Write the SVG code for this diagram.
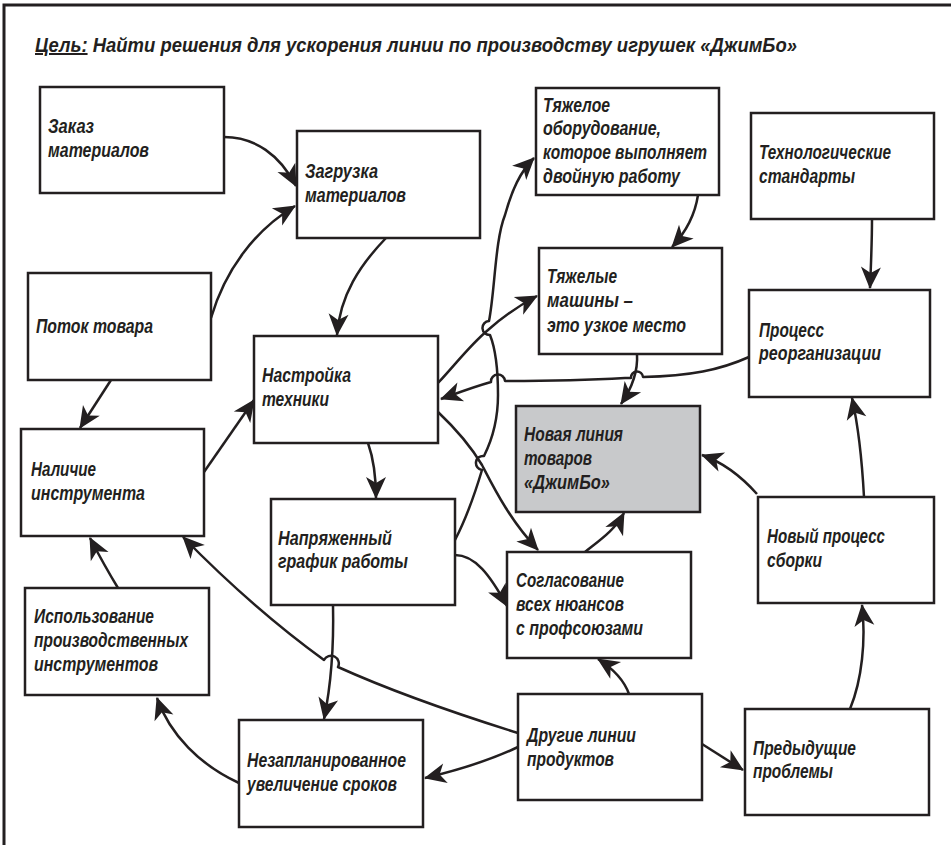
<svg xmlns="http://www.w3.org/2000/svg" width="951" height="845" viewBox="0 0 951 845">
<style>
  .box{fill:#fff;stroke:#231f20;stroke-width:2.5}
  .hl{fill:#c8c9cb}
  .t{font-family:"Liberation Sans","Arial",sans-serif;font-weight:700;font-style:italic;font-size:20px;fill:#231f20}
  .c{fill:none;stroke:#231f20;stroke-width:2.5;stroke-linejoin:round}
  .a{marker-end:url(#ah)}
  .frame{fill:none;stroke:#231f20;stroke-width:3}
</style>
<defs>
  <marker id="ah" markerUnits="userSpaceOnUse" markerWidth="26" markerHeight="22" refX="21" refY="10" orient="auto" overflow="visible">
    <path d="M0,0 L22,10 L0,20 L6,10 z" fill="#231f20"/>
  </marker>
</defs>

<!-- page frame -->
<path class="frame" d="M4,845 V5 H951"/>

<!-- heading -->
<text class="t" x="35" y="52" textLength="762" lengthAdjust="spacingAndGlyphs"><tspan text-decoration="underline">Цель:</tspan> Найти решения для ускорения линии по производству игрушек «ДжимБо»</text>

<!-- connectors -->
<g id="connectors">
  <path class="c a" d="M224,137 C255,137 280,155 296,186"/>
  <path class="c a" d="M211,318 C225,270 255,230 295,206"/>
  <path class="c a" d="M386,238 C360,265 340,295 337,335"/>
  <path class="c a" d="M111,380 L80,428"/>
  <path class="c a" d="M204,472 L254,400"/>
  <path class="c a" d="M368,443 C374,460 376,480 376,498"/>
  <path class="c a" d="M118,588 Q104,565 90,538"/>
  <path class="c a" d="M518,733 C470,718 400,695 338,667 A7,7 0 0 0 324,660 C280,628 230,585 183,537"/>
  <path class="c a" d="M333,605 C334,650 330,690 324,719"/>
  <path class="c a" d="M239,783 C200,765 170,735 157,698"/>
  <path class="c a" d="M518,747 Q480,765 425,778"/>
  <path class="c a" d="M629,694 C624,680 612,668 598,659"/>
  <path class="c a" d="M702,744 L743,770"/>
  <path class="c a" d="M850,709 C862,680 866,640 862,605"/>
  <path class="c a" d="M864,497 C862,460 858,425 852,398"/>
  <path class="c a" d="M757,494 C740,475 722,462 702,455"/>
  <path class="c a" d="M872,219 C872,240 871,265 870,288"/>
  <path class="c a" d="M698,195 C695,215 686,232 672,247"/>
  <path class="c a" d="M637,354 C638,370 632,388 621,404"/>
  <path class="c a" d="M749,357 C720,370 690,376 643,377 A6,6 0 0 0 631,378 L625,378 C590,380 540,381 505,381 A7,7 0 0 0 491,382 C470,388 455,394 441,399"/>
  <path class="c a" d="M438,383 C455,365 470,345 488,330 C505,315 520,305 537,296"/>
  <path class="c a" d="M455,540 C468,515 476,490 482,470 A7,7 0 0 1 484,456 C492,440 498,420 498,395 C498,370 496,350 490,335 A7,7 0 0 1 489,321 C495,290 495,240 505,215 C512,190 520,172 534,158"/>
  <path class="c a" d="M438,412 C455,428 470,445 482,465 C495,490 510,520 538,550"/>
  <path class="c a" d="M455,555 C475,555 490,575 507,606"/>
  <path class="c a" d="M585,552 C600,540 615,530 624,513"/>
</g>

<!-- nodes -->
<g id="order-materials">
  <rect class="box" x="40" y="87" width="184" height="106"/>
  <text class="t" x="48" y="133" textLength="46" lengthAdjust="spacingAndGlyphs">Заказ</text>
  <text class="t" x="48" y="157" textLength="101" lengthAdjust="spacingAndGlyphs">материалов</text>
</g>
<g id="load-materials">
  <rect class="box" x="297" y="131" width="183" height="107"/>
  <text class="t" x="305" y="178" textLength="73" lengthAdjust="spacingAndGlyphs">Загрузка</text>
  <text class="t" x="305" y="202" textLength="101" lengthAdjust="spacingAndGlyphs">материалов</text>
</g>
<g id="goods-flow">
  <rect class="box" x="28" y="273" width="183" height="107"/>
  <text class="t" x="36" y="333" textLength="117" lengthAdjust="spacingAndGlyphs">Поток товара</text>
</g>
<g id="machine-setup">
  <rect class="box" x="254" y="336" width="184" height="107"/>
  <text class="t" x="262" y="382" textLength="89" lengthAdjust="spacingAndGlyphs">Настройка</text>
  <text class="t" x="262" y="406" textLength="67" lengthAdjust="spacingAndGlyphs">техники</text>
</g>
<g id="tool-availability">
  <rect class="box" x="21" y="429" width="183" height="107"/>
  <text class="t" x="31" y="476" textLength="65" lengthAdjust="spacingAndGlyphs">Наличие</text>
  <text class="t" x="31" y="500" textLength="114" lengthAdjust="spacingAndGlyphs">инструмента</text>
</g>
<g id="tight-schedule">
  <rect class="box" x="271" y="499" width="184" height="106"/>
  <text class="t" x="278" y="545" textLength="114" lengthAdjust="spacingAndGlyphs">Напряженный</text>
  <text class="t" x="278" y="568" textLength="130" lengthAdjust="spacingAndGlyphs">график работы</text>
</g>
<g id="tool-usage">
  <rect class="box" x="25" y="588" width="184" height="107"/>
  <text class="t" x="34" y="623" textLength="120" lengthAdjust="spacingAndGlyphs">Использование</text>
  <text class="t" x="34" y="647" textLength="154" lengthAdjust="spacingAndGlyphs">производственных</text>
  <text class="t" x="34" y="671" textLength="124" lengthAdjust="spacingAndGlyphs">инструментов</text>
</g>
<g id="unplanned-delay">
  <rect class="box" x="239" y="720" width="184" height="107"/>
  <text class="t" x="247" y="767" textLength="159" lengthAdjust="spacingAndGlyphs">Незапланированное</text>
  <text class="t" x="247" y="791" textLength="150" lengthAdjust="spacingAndGlyphs">увеличение сроков</text>
</g>
<g id="heavy-equipment">
  <rect class="box" x="536" y="88" width="183" height="107"/>
  <text class="t" x="543" y="112" textLength="67" lengthAdjust="spacingAndGlyphs">Тяжелое</text>
  <text class="t" x="543" y="135" textLength="118" lengthAdjust="spacingAndGlyphs">оборудование,</text>
  <text class="t" x="543" y="159" textLength="164" lengthAdjust="spacingAndGlyphs">которое выполняет</text>
  <text class="t" x="543" y="183" textLength="137" lengthAdjust="spacingAndGlyphs">двойную работу</text>
</g>
<g id="tech-standards">
  <rect class="box" x="751" y="113" width="183" height="106"/>
  <text class="t" x="759" y="159" textLength="132" lengthAdjust="spacingAndGlyphs">Технологические</text>
  <text class="t" x="759" y="183" textLength="96" lengthAdjust="spacingAndGlyphs">стандарты</text>
</g>
<g id="heavy-machines">
  <rect class="box" x="539" y="248" width="183" height="106"/>
  <text class="t" x="547" y="283" textLength="70" lengthAdjust="spacingAndGlyphs">Тяжелые</text>
  <text class="t" x="547" y="307" textLength="86" lengthAdjust="spacingAndGlyphs">машины –</text>
  <text class="t" x="547" y="332" textLength="139" lengthAdjust="spacingAndGlyphs">это узкое место</text>
</g>
<g id="reorganisation">
  <rect class="box" x="749" y="290" width="181" height="107"/>
  <text class="t" x="759" y="337" textLength="65" lengthAdjust="spacingAndGlyphs">Процесс</text>
  <text class="t" x="759" y="360" textLength="122" lengthAdjust="spacingAndGlyphs">реорганизации</text>
</g>
<g id="new-line">
  <rect class="box hl" x="516" y="406" width="184" height="106"/>
  <text class="t" x="524" y="441" textLength="99" lengthAdjust="spacingAndGlyphs">Новая линия</text>
  <text class="t" x="524" y="465" textLength="68" lengthAdjust="spacingAndGlyphs">товаров</text>
  <text class="t" x="524" y="489" textLength="86" lengthAdjust="spacingAndGlyphs">«ДжимБо»</text>
</g>
<g id="new-assembly">
  <rect class="box" x="758" y="497" width="176" height="106"/>
  <text class="t" x="767" y="543" textLength="118" lengthAdjust="spacingAndGlyphs">Новый процесс</text>
  <text class="t" x="767" y="567" textLength="55" lengthAdjust="spacingAndGlyphs">сборки</text>
</g>
<g id="union-agreement">
  <rect class="box" x="507" y="552" width="184" height="106"/>
  <text class="t" x="516" y="587" textLength="108" lengthAdjust="spacingAndGlyphs">Согласование</text>
  <text class="t" x="516" y="611" textLength="108" lengthAdjust="spacingAndGlyphs">всех нюансов</text>
  <text class="t" x="516" y="635" textLength="127" lengthAdjust="spacingAndGlyphs">с профсоюзами</text>
</g>
<g id="other-lines">
  <rect class="box" x="518" y="694" width="184" height="106"/>
  <text class="t" x="527" y="742" textLength="109" lengthAdjust="spacingAndGlyphs">Другие линии</text>
  <text class="t" x="527" y="766" textLength="87" lengthAdjust="spacingAndGlyphs">продуктов</text>
</g>
<g id="previous-problems">
  <rect class="box" x="745" y="709" width="184" height="106"/>
  <text class="t" x="753" y="755" textLength="103" lengthAdjust="spacingAndGlyphs">Предыдущие</text>
  <text class="t" x="753" y="778" textLength="80" lengthAdjust="spacingAndGlyphs">проблемы</text>
</g>
</svg>
